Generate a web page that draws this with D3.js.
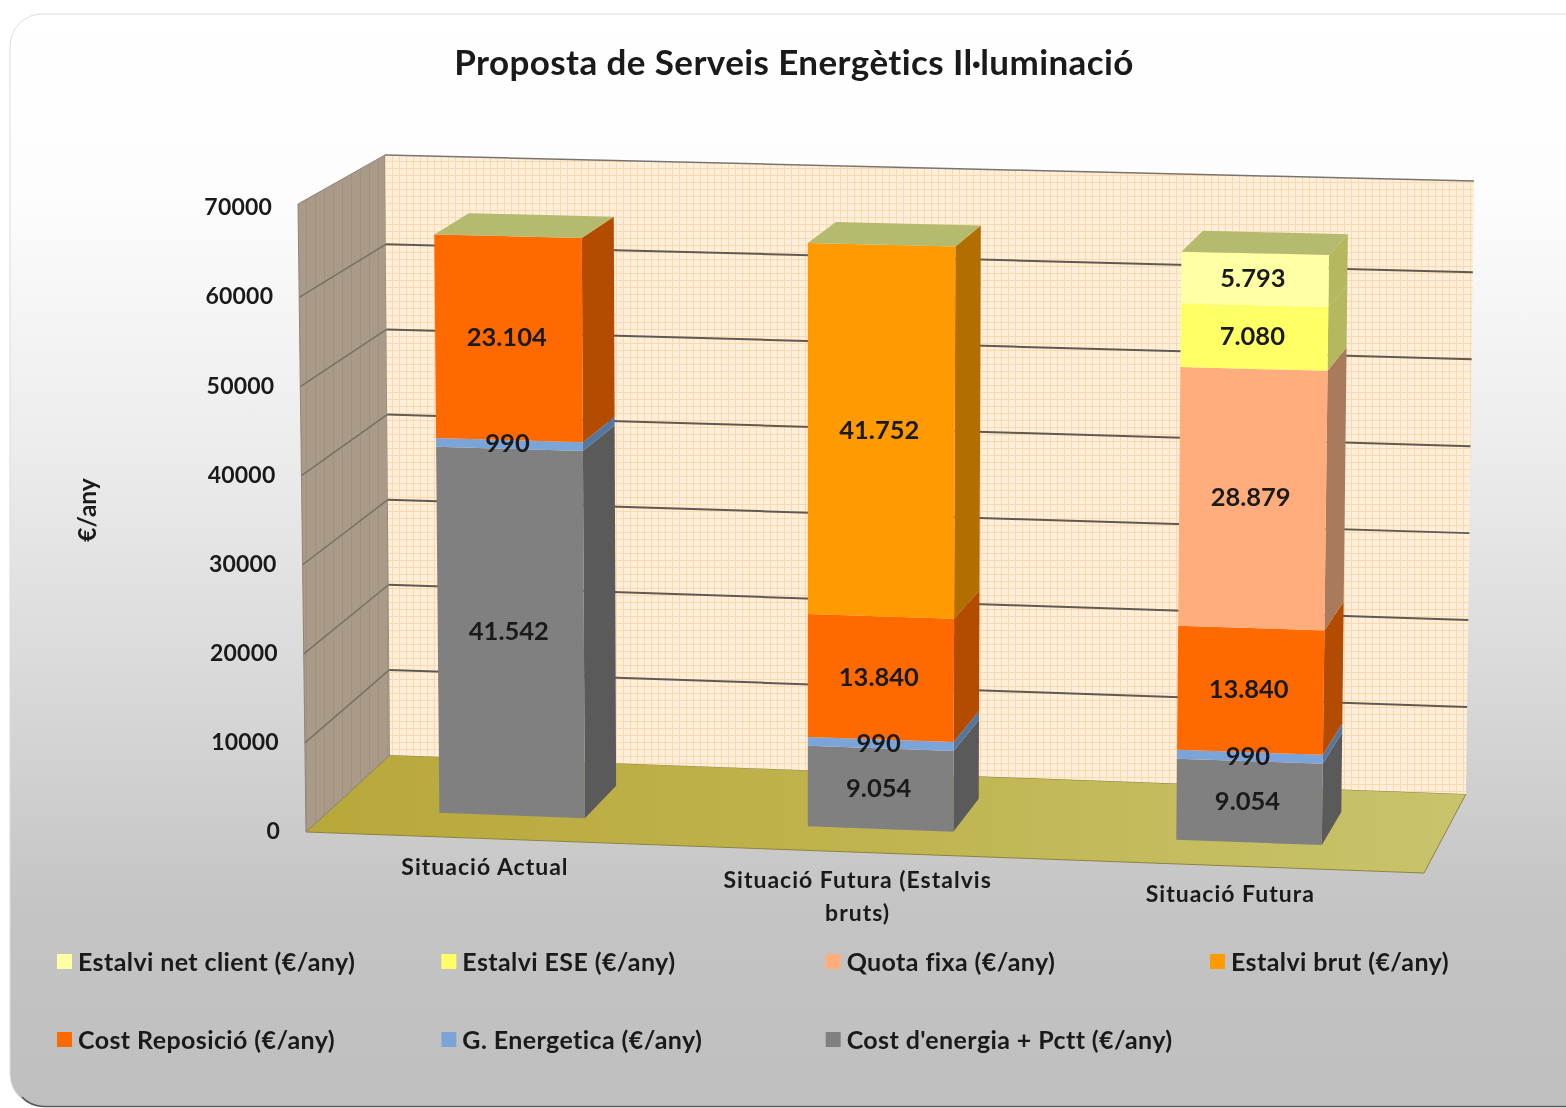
<!DOCTYPE html>
<html><head><meta charset="utf-8">
<script src="https://cdnjs.cloudflare.com/ajax/libs/d3/7.8.5/d3.min.js"></script>
<style>html,body{margin:0;padding:0;background:#fff}svg{display:block;filter:blur(.55px)}text{font-family:Lato,"Open Sans",sans-serif;font-weight:700;fill:#1a1a1a}</style>
</head><body><svg id="c" width="1566" height="1108"></svg>
<script>
const title = "Proposta de Serveis Energètics Il·luminació";
const axisTitle = "€/any";
const categories = ["Situació Actual", "Situació Futura (Estalvis bruts)", "Situació Futura"];
const seriesNames = ["Cost d'energia + Pctt (€/any)", "G. Energetica (€/any)", "Cost Reposició (€/any)", "Estalvi brut (€/any)", "Quota fixa (€/any)", "Estalvi ESE (€/any)", "Estalvi net client (€/any)"];
const costEnergia = [41542, 9054, 9054];
const gestio = [990, 990, 990];
const reposicio = [23104, 13840, 13840];
const estalviBrut = [0, 41752, 0];
const quotaFixa = [0, 0, 28879];
const estalviESE = [0, 0, 7080];
const estalviNet = [0, 0, 5793];
const yTicks = [0, 10000, 20000, 30000, 40000, 50000, 60000, 70000];
const faceColors = ["#808080", "#7ba4d8", "#ff6a00", "#ff9a00", "#ffad7c", "#ffff66", "#ffffa3"];
const sideColors = ["#5a5a5a", "#55779f", "#b34c00", "#b36e00", "#a97b5c", "#b5b85e", "#b5b85e"];
const topColor = "#b5bb6e";
const legendOrder = [6, 5, 4, 3, 2, 1, 0];

const svg = d3.select("#c");
const defs = svg.append("defs");

const bg = defs.append("linearGradient").attr("id", "bg").attr("x1", 0).attr("y1", 0).attr("x2", 0).attr("y2", 1);
[[0, "#ffffff"], [.16, "#fdfdfd"], [.4, "#ececec"], [.62, "#d8d8d8"], [.82, "#c4c4c4"], [1, "#bfbfbf"]].forEach(d => bg.append("stop").attr("offset", d[0]).attr("stop-color", d[1]));
const fl = defs.append("linearGradient").attr("id", "floor").attr("x1", 0).attr("y1", 0).attr("x2", 1).attr("y2", 0);
[[0, "#b8a83a"], [.5, "#c0b450"], [1, "#c8c46c"]].forEach(d => fl.append("stop").attr("offset", d[0]).attr("stop-color", d[1]));
const wp = defs.append("pattern").attr("id", "wall").attr("patternUnits", "userSpaceOnUse").attr("width", 7).attr("height", 7);
wp.append("rect").attr("width", 7).attr("height", 7).attr("fill", "#ffeeda");
wp.append("path").attr("d", "M0 .5H7M.5 0V7").attr("stroke", "#fbd9b0").attr("stroke-width", 1);
const lw = defs.append("pattern").attr("id", "lwall").attr("patternUnits", "userSpaceOnUse").attr("width", 9).attr("height", 9);
lw.append("rect").attr("width", 9).attr("height", 9).attr("fill", "#aa9b89");
lw.append("path").attr("d", "M.5 0V9").attr("stroke", "#a09180").attr("stroke-width", 1);

// 3D box corners: [x, y] for (u, value fraction, depth)
const corners = {
  b000: [306, 832], b100: [1424, 873], b001: [390, 755], b101: [1466, 794],
  t000: [298, 204], t100: [1434, 228], t001: [385, 155], t101: [1474, 181]
};
const lerp = (a, b, t) => [a[0] + (b[0] - a[0]) * t, a[1] + (b[1] - a[1]) * t];
function project(u, frac, w) {
  const bottom = lerp(lerp(corners.b000, corners.b100, u), lerp(corners.b001, corners.b101, u), w);
  const top = lerp(lerp(corners.t000, corners.t100, u), lerp(corners.t001, corners.t101, u), w);
  return lerp(bottom, top, frac);
}
const yScale = d3.scaleLinear().domain([0, 70000]).range([0, .993]);
const xScale = d3.scaleBand().domain(categories).range([-.003, .997]).paddingInner(.605).paddingOuter(.3025);
const depthFront = .3, depthBack = .72;
const poly = d3.line();
const P = (g, pts, fill, extra) => {
  const p = g.append("path").attr("d", poly(pts) + "Z").attr("fill", fill);
  if (extra) p.attr("stroke", extra).attr("stroke-width", 1);
  return p;
};

// card
svg.append("rect").attr("x", 10).attr("y", 14).attr("width", 1620).attr("height", 1092).attr("rx", 32)
  .attr("fill", "url(#bg)").attr("stroke", "#dcdcdc");
svg.append("path").attr("d", "M22 1097Q30 1106 44 1106.5H1566").attr("fill", "none").attr("stroke", "#555").attr("stroke-width", 1.5);

svg.append("text").attr("x", 794).attr("y", 75).attr("text-anchor", "middle").attr("font-size", 35).attr("letter-spacing", .4).text(title);

// walls and floor
const plot = svg.append("g");
P(plot, [project(0, 0, 0), project(1, 0, 0), project(1, 0, 1), project(0, 0, 1)], "url(#floor)", "#8c8440");
P(plot, [project(0, 0, 0), project(0, 1, 0), project(0, 1, 1), project(0, 0, 1)], "url(#lwall)", "#8f8577");
P(plot, [project(0, 0, 1), project(0, 1, 1), project(1, 1, 1), project(1, 0, 1)], "url(#wall)");
plot.append("path").attr("d", poly([project(0, 1, 1), project(1, 1, 1)])).attr("stroke", "#77756f").attr("stroke-width", 1.5).attr("fill", "none");

const gridTicks = yTicks.slice(1, -1);
plot.selectAll(".gridL").data(gridTicks).join("path").attr("class", "gridL")
  .attr("fill", "none").attr("stroke", "#7b7060").attr("stroke-width", 1.5)
  .attr("d", d => poly([project(0, yScale(d), 0), project(0, yScale(d), 1)]));
plot.selectAll(".grid").data(gridTicks).join("path").attr("class", "grid")
  .attr("fill", "none").attr("stroke", "#5f5a50").attr("stroke-width", 2)
  .attr("d", d => poly([project(0, yScale(d), 1), project(1, yScale(d), 1)]));

// stacked bars
const rows = categories.map((c, i) => ({ cat: c, s0: costEnergia[i], s1: gestio[i], s2: reposicio[i], s3: estalviBrut[i], s4: quotaFixa[i], s5: estalviESE[i], s6: estalviNet[i] }));
const keys = seriesNames.map((_, i) => "s" + i);
const stacked = d3.stack().keys(keys)(rows);
const fmt = v => d3.format(",")(v).replace(/,/g, ".");
const labels = [];
categories.forEach((c, ci) => {
  const g = plot.append("g");
  const u0 = xScale(c), u1 = u0 + xScale.bandwidth();
  let last = null;
  stacked.forEach((layer, si) => {
    const [a, b] = layer[ci];
    if (b <= a) return;
    const fa = yScale(a), fb = yScale(b);
    const pts = [project(u1, fa, depthFront), project(u1, fa, depthBack), project(u1, fb, depthBack), project(u1, fb, depthFront)];
    P(g, pts, sideColors[si]);
    P(g, [project(u0, fa, depthFront), project(u1, fa, depthFront), project(u1, fb, depthFront), project(u0, fb, depthFront)], faceColors[si]);
    last = fb;
    const mid = project((u0 + u1) / 2, (fa + fb) / 2, depthFront);
    labels.push({ x: mid[0], y: mid[1], t: fmt(b - a) });
  });
  P(g, [project(u0, last, depthFront), project(u1, last, depthFront), project(u1, last, depthBack), project(u0, last, depthBack)], topColor);
});
svg.append("g").selectAll("text").data(labels).join("text")
  .attr("x", d => d.x - 2).attr("y", d => d.y + 8).attr("text-anchor", "middle").attr("font-size", 25.5).text(d => d.t);

// value axis
svg.append("g").selectAll("text").data(yTicks).join("text")
  .attr("x", d => project(0, yScale(d), 0)[0] - 26)
  .attr("y", d => project(0, yScale(d), 0)[1] + 7)
  .attr("text-anchor", "end").attr("font-size", 23).attr("letter-spacing", .2).text(d => d);
svg.append("text").attr("transform", "translate(96,510) rotate(-90)").attr("text-anchor", "middle").attr("font-size", 24.5).text(axisTitle);

// category axis
const catLines = [["Situació Actual"], ["Situació Futura (Estalvis", "bruts)"], ["Situació Futura"]];
categories.forEach((c, i) => {
  const p = project(xScale(c) + xScale.bandwidth() / 2, 0, 0);
  catLines[i].forEach((ln, k) => {
    svg.append("text").attr("x", p[0] - 4).attr("y", p[1] + 36 + k * 33).attr("text-anchor", "middle").attr("font-size", 23).attr("letter-spacing", 1).text(ln);
  });
});

// legend
const legX = d3.scalePoint().domain([0, 1, 2, 3]).range([57, 1210]);
const legY = d3.scalePoint().domain([0, 1]).range([962, 1040]);
legendOrder.forEach((si, k) => {
  const col = k % 4, row = Math.floor(k / 4);
  const g = svg.append("g").attr("transform", `translate(${legX(col)},${legY(row)})`);
  g.append("rect").attr("x", 0).attr("y", -8).attr("width", 15).attr("height", 15).attr("fill", faceColors[si]);
  g.append("text").attr("x", 21).attr("y", 9).attr("font-size", 25).attr("letter-spacing", .4).text(seriesNames[si]);
});
</script></body></html>
